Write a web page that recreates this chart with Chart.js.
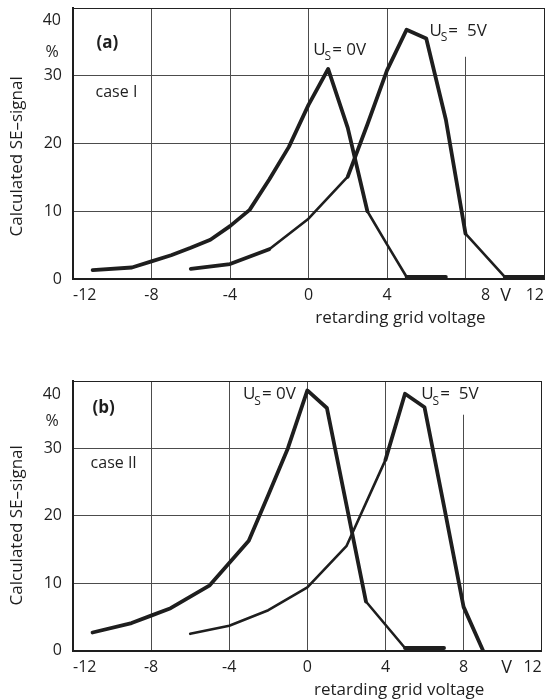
<!DOCTYPE html>
<html lang="en">
<head>
  <meta charset="UTF-8">
  <title>Calculated SE-signal</title>
  <script src="https://cdn.jsdelivr.net/npm/chart.js"></script>
  <style>
    body { margin: 0; background: #fff; }
    .box { position: absolute; left: 0; width: 545px; height: 350px; }
  </style>
</head>
<body>
  <div class="box" style="top:0"><canvas id="chartA"></canvas></div>
  <div class="box" style="top:350px"><canvas id="chartB"></canvas></div>

  <script>
    // axis ticks
    const xTicks = [-12, -8, -4, 0, 4, 8, 12];
    const yTicks = [0, 10, 20, 30, 40];

    // (a) case I
    const a0x = [-11, -9, -8, -7, -6, -5, -4, -3, -2, -1, 0, 1, 2, 3, 4, 5, 7];
    const a0y = [1.3, 1.7, 2.6, 3.5, 4.6, 5.8, 7.8, 10.2, 14.7, 19.5, 25.7, 31, 22.3, 10, 5.1, 0.3, 0.3];
    const a5x = [-6, -4, -2, 0, 1, 2, 3, 4, 5, 6, 7, 8, 10, 12];
    const a5y = [1.5, 2.2, 4.4, 8.9, 12, 15.1, 22.8, 30.8, 36.8, 35.5, 23.5, 6.7, 0.3, 0.3];

    // (b) case II
    const b0x = [-11, -9, -8, -7, -5, -4, -3, -2, -1, 0, 1, 3, 5, 7];
    const b0y = [2.7, 4.1, 5.2, 6.3, 9.7, 13, 16.3, 23.1, 30, 38.6, 36, 7.3, 0.4, 0.4];
    const b5x = [-6, -4, -2, 0, 2, 4, 5, 6, 7, 8, 9];
    const b5y = [2.5, 3.7, 6, 9.4, 15.5, 28.3, 38.1, 36.1, 21.4, 6.5, 0];

    // segments drawn with the thinner pen (index of segment start)
    const thinA0 = [13, 14];
    const thinA5 = [2, 3, 4, 11];
    const thinB0 = [11];
    const thinB5 = [0, 1, 2, 3, 4];

    const FONT = "'Open Sans', 'DejaVu Sans', sans-serif";
    const INK = '#1e1e1e';
    const THICK = 3.8, THIN = 2.6;

    function series(xs, ys) {
      return xs.map((x, i) => ({ x: x, y: ys[i] }));
    }

    function txt(ctx, s, x, y, size, align, weight) {
      ctx.font = (weight || 'normal') + ' ' + size + 'px ' + FONT;
      ctx.textAlign = align;
      ctx.textBaseline = 'middle';
      ctx.fillStyle = INK;
      ctx.fillText(s, x, y);
      return ctx.measureText(s).width;
    }

    // "U" with subscript S, then the rest
    function usLabel(ctx, x, y, rest) {
      const w = txt(ctx, 'U', x, y, 17, 'left');
      const w2 = txt(ctx, 'S', x + w - 1, y + 7, 12, 'left');
      txt(ctx, rest, x + w + w2, y, 17, 'left');
    }

    function notes(opt) {
      return {
        id: 'notes',
        beforeDatasetsDraw(chart) {
          // gridline at 8 V is broken under the U_S label
          const { ctx, chartArea, scales } = chart;
          const x8 = scales.x.getPixelForValue(8);
          ctx.save();
          ctx.fillStyle = '#fff';
          ctx.fillRect(x8 - 1.5, chartArea.top + 1, 3, scales.y.getPixelForValue(opt.gap8) - chartArea.top - 1);
          ctx.restore();
        },
        afterDraw(chart) {
          const { ctx, chartArea, scales } = chart;
          const X = v => scales.x.getPixelForValue(v);
          const Y = v => scales.y.getPixelForValue(v);
          ctx.save();
          txt(ctx, opt.panel, X(opt.panelAt[0]), Y(opt.panelAt[1]), 17, 'left', 'bold');
          txt(ctx, opt.caseText, X(opt.caseAt[0]), Y(opt.caseAt[1]), 16, 'left');
          usLabel(ctx, X(opt.us0At[0]), Y(opt.us0At[1]), '= 0V');
          usLabel(ctx, X(opt.us5At[0]), Y(opt.us5At[1]), '=  5V');
          txt(ctx, '40', chartArea.left - 12, Y(opt.y40), 16, 'right');
          txt(ctx, '%', chartArea.left - 21, Y(opt.pct), 16, 'center');
          txt(ctx, 'V', X(opt.vAt), chartArea.bottom + opt.vDy, 18, 'center');
          txt(ctx, 'retarding grid voltage', X(opt.xTitleAt), chartArea.bottom + 39, 17, 'center');
          ctx.translate(17, Y(opt.yTitleAt));
          ctx.rotate(-Math.PI / 2);
          txt(ctx, 'Calculated SE\u2013signal', 0, 0, 17, 'center');
          ctx.restore();
        }
      };
    }

    function makeChart(id, sets, opt) {
      new Chart(document.getElementById(id), {
        type: 'line',
        data: {
          datasets: sets.map(s => ({
            data: series(s.xs, s.ys),
            borderColor: INK,
            borderWidth: THICK,
            pointRadius: 0,
            borderJoinStyle: 'round',
            borderCapStyle: 'round',
            tension: 0,
            segment: { borderWidth: c => s.thin.includes(c.p0DataIndex) ? THIN : THICK }
          }))
        },
        options: {
          animation: false,
          responsive: true,
          maintainAspectRatio: false,
          layout: { padding: { top: opt.top, right: opt.right, left: 0, bottom: 0 } },
          plugins: { legend: { display: false }, tooltip: { enabled: false } },
          scales: {
            x: {
              type: 'linear', min: -12, max: 12,
              afterBuildTicks: s => { s.ticks = xTicks.map(v => ({ value: v })); },
              afterFit: s => { s.height = opt.xh; s.paddingLeft = 0; s.paddingRight = 0; },
              grid: {
                drawTicks: false, lineWidth: 1,
                color: c => (c.tick && c.tick.value === 12) ? '#222' : '#4c4c4c'
              },
              border: { color: INK, width: 2 },
              ticks: {
                padding: 7, color: INK, maxRotation: 0, autoSkip: false, align: 'inner',
                font: { family: FONT, size: 16 },
                callback: v => (v === 8 && opt.shift8) ? '\u2003\u2003  8' : String(v)
              }
            },
            y: {
              min: 0, max: 40,
              afterBuildTicks: s => { s.ticks = yTicks.map(v => ({ value: v })); },
              afterFit: s => { s.width = 73; s.paddingTop = 0; s.paddingBottom = 0; },
              grid: {
                drawTicks: false, lineWidth: 1,
                color: c => (c.tick && c.tick.value === 40) ? '#222' : '#4c4c4c'
              },
              border: { color: INK, width: 2 },
              ticks: {
                padding: 11, color: INK,
                font: { family: FONT, size: 16 },
                callback: v => v === 40 ? '' : String(v)
              }
            }
          }
        },
        plugins: [notes(opt)]
      });
    }

    makeChart('chartA', [
      { xs: a0x, ys: a0y, thin: thinA0 },
      { xs: a5x, ys: a5y, thin: thinA5 }
    ], {
      top: 8, right: 1, xh: 71, shift8: true, gap8: 32.8,
      panel: '(a)', panelAt: [-10.8, 34.8],
      caseText: 'case I', caseAt: [-10.85, 27.5],
      us0At: [0.24, 33.8], us5At: [6.16, 36.6],
      y40: 38.1, pct: 33.5, vAt: 10.05, vDy: 16.5, xTitleAt: 4.68, yTitleAt: 18.1
    });

    makeChart('chartB', [
      { xs: b0x, ys: b0y, thin: thinB0 },
      { xs: b5x, ys: b5y, thin: thinB5 }
    ], {
      top: 31, right: 3.3, xh: 49.3, shift8: false, gap8: 35,
      panel: '(b)', panelAt: [-11.0, 35.9],
      caseText: 'case II', caseAt: [-11.1, 27.8],
      us0At: [-3.3, 38], us5At: [5.83, 38],
      y40: 38, pct: 34, vAt: 10.2, vDy: 17, xTitleAt: 4.7, yTitleAt: 18.6
    });
  </script>
</body>
</html>
